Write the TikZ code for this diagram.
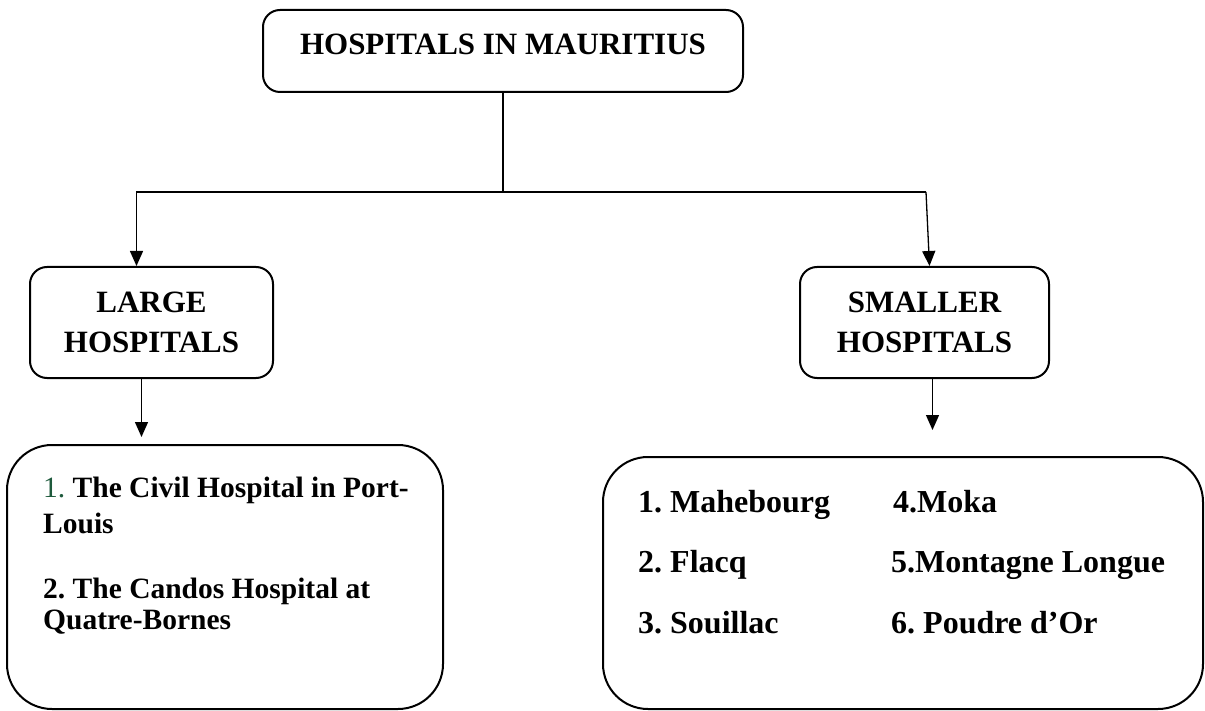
\documentclass[tikz,border=0pt]{standalone}
\usepackage{fontspec}
\setmainfont{Liberation Serif}
\usepackage{xcolor}
\usepackage{tikz}
\usetikzlibrary{positioning, arrows.meta}
\definecolor{numbergreen}{RGB}{30,90,60}
\frenchspacing
\tikzset{
	hospitalbox/.style={draw=black, line width=2pt, rounded corners=17pt, align=center, inner sep=0pt,
	font=\fontsize{31}{40}\selectfont\bfseries}
}
\tikzset{
	listbox/.style={draw=black, line width=2pt, rounded corners=45pt, inner sep=0pt}
}
\tikzset{
	listentry/.style={anchor=base west, inner sep=0pt, font=\fontsize{32}{38}\selectfont\bfseries}
}
\tikzset{
	link/.style={draw=black, line width=1.3pt}
}
\tikzset{
	linkarrow/.style={link, -{Triangle[width=13pt,length=15pt]}}
}
\begin{document}
\begin{tikzpicture}[x=1pt, y=-1pt]

		\useasboundingbox (0,0) rectangle (1205,711);

		% column positions of the two lists
		\newcommand{\leftcolumn}{43}
		\newcommand{\rightcolA}{638}
		\newcommand{\rightcolB}{891}

		% top box
		\node[hospitalbox, minimum width=480, minimum height=82, text height=22, text depth=14] (title) at (503,51) {HOSPITALS IN MAURITIUS};

		% second level
		\node[hospitalbox, minimum width=243, minimum height=111] (large) at (151.5,322.5) {LARGE\\HOSPITALS};
		\node[hospitalbox, minimum width=249, minimum height=111] (small) at (924.5,322.5) {SMALLER\\HOSPITALS};

		% lists
		\node[listbox, minimum width=436, minimum height=264] (largelist) at (225,577) {};
		\node[listbox, minimum width=600, minimum height=252] (smalllist) at (903,583) {};

		% connectors
		\coordinate (split) at (title.south |- 0,192);
		\coordinate (splitright) at (926,192);
		\draw[link] (title.south) -- (split);
		\draw[linkarrow] (split) -| ([xshift=-15]large.north);
		\draw[link] (split) -- (splitright);
		\draw[linkarrow] (splitright) -- ([xshift=5]small.north);

		\draw[linkarrow] ([xshift=-10]large.south) -- ([xshift=-10,yshift=7]large.south |- largelist.north);
		\draw[linkarrow] ([xshift=8]small.south) -- ([xshift=8,yshift=26]small.south |- smalllist.north);

		% large hospitals
		\node[listentry, font=\fontsize{29.5}{35}\selectfont\bfseries] (civil) at (\leftcolumn,497) {\textcolor{numbergreen}{\mdseries 1.} The Civil Hospital in Port-};
		\node[listentry, font=\fontsize{29.5}{35}\selectfont\bfseries] (civilb) at (\leftcolumn,533) {Louis};
		\node[listentry, font=\fontsize{29.5}{35}\selectfont\bfseries] (candos) at (\leftcolumn,598) {2. The Candos Hospital at};
		\node[listentry, font=\fontsize{29.5}{35}\selectfont\bfseries] (candosb) at (\leftcolumn,629) {Quatre-Bornes};

		% smaller hospitals
		\node[listentry] (mahebourg) at (\rightcolA,512) {1. Mahebourg};
		\node[listentry] (flacq) at (\rightcolA,572) {2. Flacq};
		\node[listentry] (souillac) at (\rightcolA,633) {3. Souillac};
		\node[listentry] (moka) at (\rightcolB+2,512) {4.Moka};
		\node[listentry] (montagne) at (\rightcolB,572) {5.Montagne Longue};
		\node[listentry] (poudre) at (\rightcolB,633) {6. Poudre d’Or};

	\end{tikzpicture}
\end{document}
